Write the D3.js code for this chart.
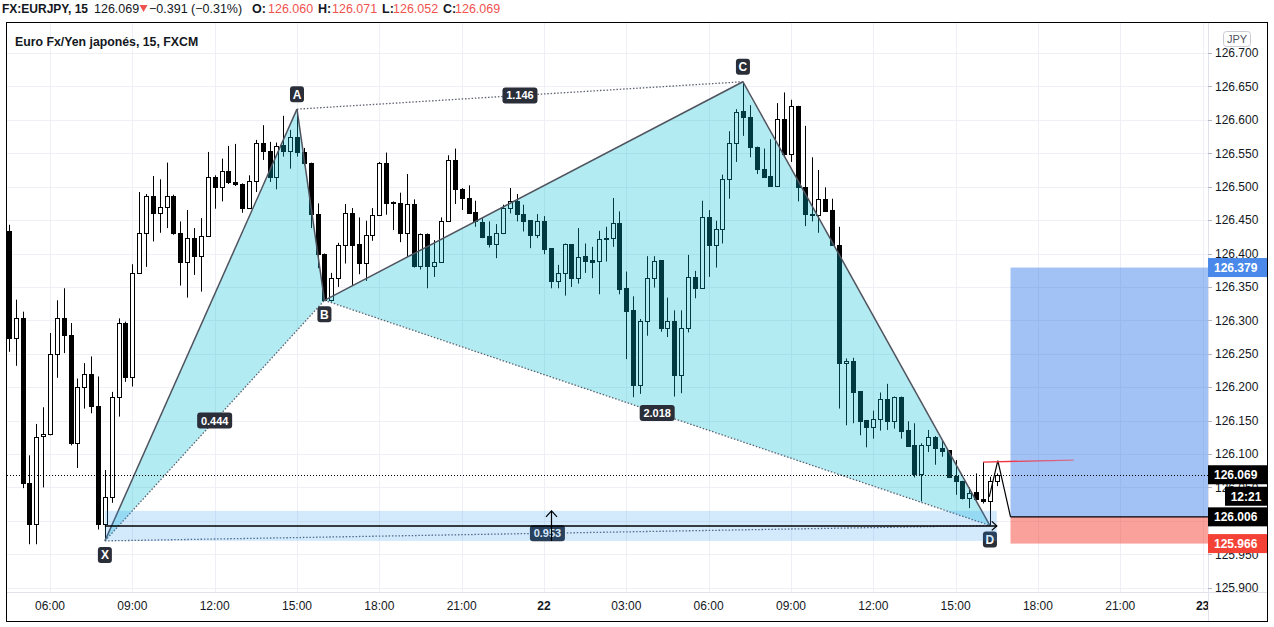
<!DOCTYPE html>
<html><head><meta charset="utf-8">
<script src="https://cdn.jsdelivr.net/npm/d3@7"></script>
<style>body{margin:0;background:#fff;}svg{display:block;font-family:"Liberation Sans",Arial,sans-serif;}</style>
</head><body><svg id="c" width="1274" height="627"></svg>
<script>
// ---------- DATA ----------
const firstBar = -6; // bar index of first candle (0 = 06:00 on day 21, 15-min bars)
const opens = [126.433,126.273,126.303,126.057,125.996,126.127,126.130,126.249,126.303,126.278,
126.116,126.201,126.220,126.172,125.995,126.035,126.185,126.296,126.215,126.371,
126.430,126.486,126.460,126.470,126.486,126.431,126.388,126.423,126.396,126.426,
126.515,126.499,126.524,126.507,126.504,126.468,126.508,126.566,126.554,126.515,
126.562,126.554,126.575,126.552,126.535,126.459,126.399,126.330,126.364,126.413,
126.460,126.414,126.386,126.427,126.457,126.536,126.477,126.476,126.431,126.474,
126.381,126.429,126.381,126.388,126.449,126.540,126.497,126.483,126.462,126.447,
126.426,126.414,126.430,126.468,126.479,126.459,126.450,126.427,126.448,126.408,
126.359,126.371,126.414,126.364,126.396,126.390,126.389,126.421,126.423,126.445,
126.348,126.315,126.203,126.299,126.363,126.390,126.288,126.299,126.218,126.288,
126.365,126.348,126.454,126.413,126.436,126.511,126.566,126.613,126.604,126.560,
126.527,126.516,126.501,126.601,126.549,126.621,126.499,126.457,126.458,126.482,
126.465,126.413,126.236,126.239,126.194,126.151,126.141,126.153,126.182,126.150,
126.186,126.136,126.113,126.070,126.113,126.126,126.109,126.106,126.067,126.060,
126.034,126.043,126.032,126.029,126.060];
const highs = [126.443,126.331,126.313,126.098,126.145,126.170,126.281,126.330,126.348,126.296,
126.213,126.236,126.246,126.216,126.076,126.193,126.303,126.298,126.384,126.492,
126.489,126.516,126.511,126.536,126.488,126.448,126.465,126.438,126.453,126.552,
126.517,126.542,126.561,126.564,126.505,126.517,126.570,126.592,126.567,126.566,
126.606,126.585,126.616,126.558,126.536,126.475,126.400,126.371,126.416,126.474,
126.468,126.454,126.449,126.468,126.537,126.551,126.478,126.491,126.519,126.481,
126.430,126.430,126.420,126.454,126.547,126.557,126.498,126.502,126.479,126.453,
126.448,126.444,126.473,126.498,126.489,126.473,126.450,126.459,126.456,126.408,
126.383,126.415,126.414,126.438,126.415,126.410,126.434,126.440,126.483,126.463,
126.373,126.336,126.302,126.396,126.396,126.390,126.334,126.315,126.315,126.398,
126.374,126.479,126.465,126.449,126.518,126.583,126.616,126.657,126.622,126.560,
126.557,126.571,126.625,126.641,126.630,126.621,126.591,126.544,126.525,126.499,
126.482,126.440,126.243,126.244,126.194,126.151,126.165,126.192,126.205,126.186,
126.186,126.149,126.146,126.116,126.136,126.127,126.120,126.106,126.091,126.060,
126.050,126.071,126.088,126.066,126.071];
const lows = [126.253,126.232,126.049,125.965,125.965,126.050,126.128,126.214,126.251,126.113,
126.079,126.168,126.161,125.987,125.970,126.027,126.156,126.208,126.201,126.370,
126.380,126.418,126.431,126.438,126.428,126.352,126.334,126.368,126.343,126.426,
126.467,126.478,126.504,126.501,126.461,126.467,126.492,126.540,126.507,126.496,
126.545,126.527,126.545,126.532,126.438,126.378,126.329,126.328,126.350,126.385,
126.353,126.369,126.359,126.419,126.456,126.458,126.435,126.417,126.395,126.379,
126.376,126.348,126.365,126.387,126.448,126.474,126.465,126.460,126.440,126.423,
126.409,126.393,126.429,126.460,126.448,126.433,126.408,126.423,126.399,126.348,
126.348,126.337,126.350,126.355,126.371,126.363,126.339,126.388,126.410,126.339,
126.242,126.185,126.190,126.277,126.349,126.283,126.275,126.186,126.191,126.282,
126.333,126.347,126.365,126.379,126.415,126.482,126.537,126.576,126.544,126.519,
126.513,126.501,126.500,126.544,126.537,126.478,126.441,126.448,126.431,126.463,
126.412,126.168,126.143,126.146,126.128,126.110,126.123,126.135,126.136,126.138,
126.123,126.112,126.065,126.029,126.103,126.084,126.096,126.064,126.039,126.032,
126.019,126.031,126.026,125.993,126.052];
const closes = [126.273,126.303,126.057,125.996,126.126,126.130,126.249,126.303,126.278,126.116,
126.201,126.220,126.172,125.995,126.035,126.185,126.296,126.215,126.371,126.430,
126.486,126.460,126.470,126.486,126.431,126.388,126.423,126.396,126.426,126.515,
126.499,126.524,126.507,126.504,126.468,126.508,126.566,126.554,126.515,126.561,
126.554,126.575,126.552,126.536,126.459,126.399,126.330,126.364,126.413,126.460,
126.413,126.386,126.427,126.457,126.536,126.475,126.475,126.431,126.474,126.381,
126.429,126.381,126.388,126.449,126.540,126.497,126.483,126.461,126.448,126.425,
126.414,126.430,126.468,126.479,126.459,126.449,126.427,126.448,126.407,126.359,
126.371,126.414,126.364,126.395,126.389,126.388,126.422,126.423,126.445,126.347,
126.314,126.203,126.299,126.363,126.389,126.288,126.299,126.218,126.288,126.365,
126.348,126.454,126.413,126.436,126.511,126.566,126.612,126.604,126.559,126.527,
126.515,126.501,126.601,126.549,126.621,126.499,126.459,126.459,126.482,126.464,
126.413,126.236,126.239,126.193,126.150,126.141,126.153,126.182,126.150,126.186,
126.135,126.112,126.070,126.113,126.126,126.109,126.105,126.066,126.059,126.034,
126.042,126.033,126.029,126.060,126.069];

const timeTickBars = [0,12,24,36,48,60,72,84,96,108,120,132,144,156,168];
const timeTickLabels = ["06:00","09:00","12:00","15:00","18:00","21:00","22","03:00","06:00","09:00","12:00","15:00","18:00","21:00","23"];
const dayLabels = ["22","23"];
const priceTicks = [125.900,125.950,126.000,126.050,126.100,126.150,126.200,126.250,126.300,126.350,126.400,126.450,126.500,126.550,126.600,126.650,126.700];

const patternNames = ["X","A","B","C","D"];
const patternBars = [8,36,40,101,137];
const patternPrices = [125.970,126.616,126.330,126.657,125.993];
const ratioLabels = ["0.444","1.146","2.018","0.953"];

const rangeBars = [8,138];
const rangePrices = [125.970,126.015];

const positionBars = [140,175];
const targetPrice = 126.379, entryPrice = 126.006, stopPrice = 125.966;
const redLineBars = [136,149.2], redLinePrices = [126.088,126.091];
const pathBars = [136.9,138.15,140], pathPrices = [126.036,126.090,126.006];

const lastPrice = 126.069;
const countdown = "12:21";
const header = {symbol:"FX:EURJPY, 15", last:"126.069", change:"\u22120.391 (\u22120.31%)", o:"126.060", h:"126.071", l:"126.052", c:"126.069"};
const title = "Euro Fx/Yen japonés, 15, FXCM";
const currency = "JPY";

// ---------- LAYOUT ----------
const plotL = 7, plotR = 1208, plotT = 23, plotB = 592;
const x = d3.scaleLinear().domain([0,120]).range([50,873.3]);
const y = d3.scaleLinear().domain([125.9,126.7]).range([587.7,53]);
const svg = d3.select("#c");
svg.append("rect").attr("width",1274).attr("height",627).attr("fill","#fff");
const defs = svg.append("defs");
defs.append("clipPath").attr("id","plot").append("rect")
  .attr("x",plotL).attr("y",plotT).attr("width",plotR-plotL).attr("height",plotB-plotT);
const grad = defs.append("linearGradient").attr("id","redfade").attr("gradientUnits","userSpaceOnUse")
  .attr("x1",x(redLineBars[0])).attr("x2",x(redLineBars[1])).attr("y1",0).attr("y2",0);
grad.append("stop").attr("offset","0").attr("stop-color","#f23645").attr("stop-opacity",1);
grad.append("stop").attr("offset","0.3").attr("stop-color","#f23645").attr("stop-opacity",1);
grad.append("stop").attr("offset","1").attr("stop-color","#f23645").attr("stop-opacity",0.55);
const g = svg.append("g").attr("clip-path","url(#plot)");

// grid
g.selectAll(".vg").data(timeTickBars).join("line")
  .attr("x1",d=>Math.round(x(d))+0.5).attr("x2",d=>Math.round(x(d))+0.5)
  .attr("y1",plotT).attr("y2",plotB).attr("stroke","#eef0f5");
g.selectAll(".hg").data(priceTicks).join("line")
  .attr("x1",plotL).attr("x2",plotR)
  .attr("y1",d=>Math.round(y(d))+0.5).attr("y2",d=>Math.round(y(d))+0.5).attr("stroke","#eef0f5");

// candles
const bars = opens.map((o,i)=>({k:firstBar+i,o,h:highs[i],l:lows[i],c:closes[i]}));
const cg = g.append("g");
bars.forEach(b=>{
  const cx = Math.round(x(b.k))+0.5;
  cg.append("line").attr("x1",cx).attr("x2",cx).attr("y1",y(b.h)).attr("y2",y(b.l)).attr("stroke","#000");
  const t = Math.round(y(Math.max(b.o,b.c))), bt = Math.round(y(Math.min(b.o,b.c)));
  cg.append("rect").attr("x",cx-2).attr("width",4).attr("y",t+0.5).attr("height",Math.max(1,bt-t))
    .attr("fill",b.c>=b.o?"#fff":"#000").attr("stroke","#000");
});

// pattern
const P = patternBars.map((k,i)=>({name:patternNames[i],px:x(k),py:y(patternPrices[i])}));
g.selectAll(".tri").data([[0,1,2],[2,3,4]]).join("polygon")
  .attr("points",t=>t.map(i=>P[i].px+","+P[i].py).join(" "))
  .attr("fill","rgba(0,188,212,0.3)");
g.selectAll(".leg").data([[0,1],[1,2],[2,3],[3,4]]).join("line")
  .attr("x1",d=>P[d[0]].px).attr("y1",d=>P[d[0]].py).attr("x2",d=>P[d[1]].px).attr("y2",d=>P[d[1]].py)
  .attr("stroke","#50535e").attr("stroke-width",1.5);
const diag = [[0,2],[1,3],[2,4],[0,4]];
g.selectAll(".dg").data(diag).join("line")
  .attr("x1",d=>P[d[0]].px).attr("y1",d=>P[d[0]].py).attr("x2",d=>P[d[1]].px).attr("y2",d=>P[d[1]].py)
  .attr("stroke","#5d6270").attr("stroke-width",1.3).attr("stroke-dasharray","1.5,1.8");
diag.forEach((d,i)=>{
  const mx=(P[d[0]].px+P[d[1]].px)/2, my=(P[d[0]].py+P[d[1]].py)/2;
  g.append("rect").attr("x",mx-17.5).attr("y",my-8).attr("width",35).attr("height",16).attr("rx",3).attr("fill","#2a2e39");
  g.append("text").attr("x",mx).attr("y",my+4).attr("text-anchor","middle").attr("fill","#fff")
    .attr("font-size",11).attr("font-weight","bold").text(ratioLabels[i]);
});
const above = {A:true,C:true};
P.forEach(p=>{
  const cy = p.py + (above[p.name]?-15:14);
  g.append("rect").attr("x",p.px-7).attr("y",cy-8).attr("width",14).attr("height",16).attr("rx",3).attr("fill","#2a2e39");
  g.append("text").attr("x",p.px).attr("y",cy+4.5).attr("text-anchor","middle").attr("fill","#fff")
    .attr("font-size",12).attr("font-weight","bold").text(p.name);
});

// date & price range
const rx0=x(rangeBars[0]), rx1=x(rangeBars[1]), ry0=y(rangePrices[0]), ry1=y(rangePrices[1]);
g.append("rect").attr("x",rx0).attr("y",ry1).attr("width",rx1-rx0).attr("height",ry0-ry1).attr("fill","rgba(33,150,243,0.2)");
const ym=(ry0+ry1)/2, xm=Math.round((rx0+rx1)/2)+0.5;
g.append("line").attr("x1",rx0).attr("x2",rx1).attr("y1",ym).attr("y2",ym).attr("stroke","#000").attr("stroke-width",1.5);
g.append("path").attr("d",`M${rx1-5},${ym-4.5}L${rx1},${ym}L${rx1-5},${ym+4.5}`).attr("fill","none").attr("stroke","#000").attr("stroke-width",1.3);
g.append("line").attr("x1",xm).attr("x2",xm).attr("y1",ry0).attr("y2",ry1).attr("stroke","#000").attr("stroke-width",1.2);
g.append("path").attr("d",`M${xm-5.5},${ry1+6}L${xm},${ry1}L${xm+5.5},${ry1+6}`).attr("fill","none").attr("stroke","#000").attr("stroke-width",1.2);

// long position
const px0=x(positionBars[0]), px1=x(positionBars[1]);
g.append("rect").attr("x",px0).attr("y",y(targetPrice)).attr("width",px1-px0).attr("height",y(entryPrice)-y(targetPrice)).attr("fill","rgba(33,110,230,0.42)");
g.append("rect").attr("x",px0).attr("y",y(entryPrice)).attr("width",px1-px0).attr("height",y(stopPrice)-y(entryPrice)).attr("fill","rgba(244,67,54,0.5)");
g.append("line").attr("x1",px0).attr("x2",px1).attr("y1",y(entryPrice)).attr("y2",y(entryPrice)).attr("stroke","#000").attr("stroke-width",1.2);
g.append("polyline").attr("points",pathBars.map((k,i)=>x(k)+","+y(pathPrices[i])).join(" "))
  .attr("fill","none").attr("stroke","#000").attr("stroke-width",1.2);

// red line
g.append("line").attr("x1",x(redLineBars[0])).attr("x2",x(redLineBars[1]))
  .attr("y1",y(redLinePrices[0])).attr("y2",y(redLinePrices[1])).attr("stroke","url(#redfade)").attr("stroke-width",1.3);

// last price line
const ly = Math.round(y(lastPrice))+0.5;
g.append("line").attr("x1",plotL).attr("x2",plotR).attr("y1",ly).attr("y2",ly).attr("stroke","#000").attr("stroke-dasharray","1,2");

// title
svg.append("text").attr("x",15).attr("y",46).attr("font-size",12.3).attr("font-weight","bold").attr("fill","#131722").text(title);

// separators
svg.append("line").attr("x1",plotR+0.5).attr("x2",plotR+0.5).attr("y1",22).attr("y2",621).attr("stroke","#e0e3eb");
svg.append("line").attr("x1",plotL).attr("x2",1267).attr("y1",plotB+0.5).attr("y2",plotB+0.5).attr("stroke","#e0e3eb");

// price axis
const ax = svg.append("g");
priceTicks.forEach(p=>{
  const yy = Math.round(y(p))+0.5;
  ax.append("line").attr("x1",plotR).attr("x2",plotR+4).attr("y1",yy).attr("y2",yy).attr("stroke","#b2b5be");
  ax.append("text").attr("x",1215).attr("y",y(p)+4.3).attr("font-size",12).attr("fill","#131722").text(p.toFixed(3));
});
// time axis
defs.append("clipPath").attr("id","tclip").append("rect").attr("x",plotL).attr("y",plotB).attr("width",plotR-plotL).attr("height",30);
const tg = svg.append("g").attr("clip-path","url(#tclip)");
timeTickBars.forEach((k,i)=>{
  const lab = timeTickLabels[i];
  tg.append("text").attr("x",x(k)).attr("y",610).attr("text-anchor","middle").attr("font-size",12)
    .attr("font-weight",dayLabels.includes(lab)?"bold":"normal").attr("fill","#131722").text(lab);
});

// axis price tags
function tag(price, txt, bg, x0){
  const cy = y(price);
  ax.append("rect").attr("x",x0).attr("y",cy-9.5).attr("width",1267-x0).attr("height",19).attr("fill",bg);
  ax.append("text").attr("x",x0+6).attr("y",cy+4.3).attr("font-size",12).attr("font-weight","bold").attr("fill","#fff").text(txt);
}
tag(targetPrice, targetPrice.toFixed(3), "#4a89ea", plotR);
tag(lastPrice, lastPrice.toFixed(3), "#000", plotR);
{
  const cy = y(lastPrice)+21.5;
  ax.append("rect").attr("x",1225).attr("y",cy-9.5).attr("width",42).attr("height",19).attr("fill","#000");
  ax.append("text").attr("x",1246).attr("y",cy+4.3).attr("text-anchor","middle").attr("font-size",12).attr("font-weight","bold").attr("fill","#fff").text(countdown);
}
tag(entryPrice, entryPrice.toFixed(3), "#000", plotR);
tag(stopPrice, stopPrice.toFixed(3), "#f44336", plotR);

// currency box
ax.append("rect").attr("x",1223.5).attr("y",31.5).attr("width",27).attr("height",15).attr("rx",3).attr("fill","#fff").attr("stroke","#c9cbd2");
ax.append("text").attr("x",1237).attr("y",43).attr("text-anchor","middle").attr("font-size",11).attr("fill","#50535e").text(currency);

// frame
svg.append("rect").attr("x",6.5).attr("y",22.5).attr("width",1261).attr("height",599).attr("fill","none").attr("stroke","#000");

// header
const hd = svg.append("g").attr("font-size",12.5);
const red = "#ef5350", dark = "#131722";
hd.append("text").attr("x",2).attr("y",13).attr("font-size",12).attr("font-weight","bold").attr("fill",dark).text(header.symbol);
hd.append("text").attr("x",94).attr("y",13).attr("fill",dark).text(header.last);
hd.append("path").attr("d","M139.5,5L147.5,5L143.5,12Z").attr("fill",red);
hd.append("text").attr("x",149).attr("y",13).attr("fill",dark).text(header.change);
[["O:",252,header.o,268],["H:",318,header.h,332],["L:",382,header.l,393],["C:",443,header.c,455]].forEach(d=>{
  hd.append("text").attr("x",d[1]).attr("y",13).attr("font-weight","bold").attr("fill",dark).text(d[0]);
  hd.append("text").attr("x",d[3]).attr("y",13).attr("fill",red).text(d[2]);
});
</script></body></html>
